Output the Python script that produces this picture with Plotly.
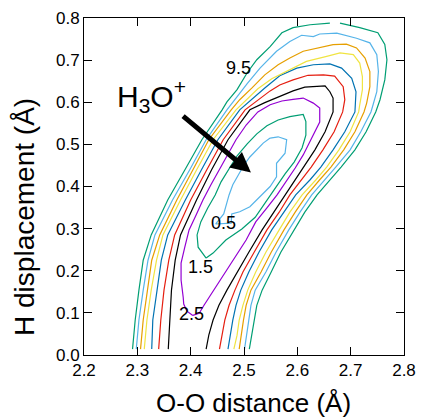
import plotly.graph_objects as go

# ---- contour lines (x: O-O distance, y: H displacement) ----
c95_x = [2.291, 2.296, 2.303, 2.311, 2.326, 2.357, 2.389, 2.421, 2.459, 2.468, 2.487, 2.506, 2.524, 2.549, 2.571, 2.592, 2.624, 2.661, None, 2.680, 2.717, 2.751, 2.764, 2.768, 2.764, 2.755, 2.747, 2.729, 2.708, 2.682, 2.661, 2.637, 2.614, 2.594, 2.569, 2.551, 2.534, 2.524, 2.519, 2.514, 2.510]
c95_y = [0.014, 0.083, 0.154, 0.225, 0.285, 0.368, 0.439, 0.511, 0.582, 0.601, 0.630, 0.670, 0.701, 0.732, 0.765, 0.777, 0.784, 0.788, None, 0.788, 0.777, 0.765, 0.737, 0.701, 0.653, 0.606, 0.577, 0.530, 0.487, 0.446, 0.416, 0.380, 0.339, 0.297, 0.244, 0.197, 0.154, 0.118, 0.083, 0.047, 0.014]

c85_x = [2.298, 2.303, 2.311, 2.320, 2.333, 2.366, 2.398, 2.429, 2.468, 2.485, 2.506, 2.530, 2.561, 2.586, 2.608, 2.630, 2.642, 2.674, 2.711, 2.736, 2.749, 2.752, 2.749, 2.742, 2.738, 2.719, 2.699, 2.672, 2.652, 2.627, 2.605, 2.584, 2.560, 2.541, 2.521, 2.513, 2.509, 2.505, 2.501]
c85_y = [0.014, 0.083, 0.154, 0.225, 0.285, 0.368, 0.439, 0.511, 0.582, 0.611, 0.644, 0.681, 0.721, 0.744, 0.759, 0.756, 0.762, 0.764, 0.752, 0.741, 0.713, 0.673, 0.625, 0.594, 0.577, 0.530, 0.487, 0.446, 0.416, 0.380, 0.339, 0.297, 0.244, 0.197, 0.154, 0.118, 0.083, 0.047, 0.014]

c75_x = [2.306, 2.311, 2.319, 2.327, 2.342, 2.374, 2.404, 2.434, 2.476, 2.492, 2.515, 2.539, 2.564, 2.586, 2.611, 2.642, 2.667, 2.692, 2.711, 2.727, 2.736, 2.736, 2.730, 2.725, 2.708, 2.687, 2.663, 2.642, 2.618, 2.596, 2.575, 2.551, 2.532, 2.513, 2.504, 2.499, 2.495, 2.491]
c75_y = [0.014, 0.083, 0.154, 0.225, 0.285, 0.368, 0.439, 0.511, 0.582, 0.606, 0.634, 0.665, 0.689, 0.705, 0.721, 0.729, 0.737, 0.738, 0.729, 0.705, 0.673, 0.637, 0.598, 0.577, 0.530, 0.487, 0.446, 0.416, 0.380, 0.339, 0.297, 0.244, 0.197, 0.154, 0.118, 0.083, 0.047, 0.014]

c65_x = [2.313, 2.318, 2.326, 2.336, 2.348, 2.381, 2.411, 2.442, 2.485, 2.504, 2.526, 2.552, 2.586, 2.617, 2.655, 2.680, 2.705, 2.717, 2.722, 2.722, 2.717, 2.715, 2.699, 2.678, 2.655, 2.635, 2.609, 2.586, 2.566, 2.541, 2.522, 2.507, 2.498, 2.491, 2.487, 2.481]
c65_y = [0.014, 0.083, 0.154, 0.225, 0.285, 0.368, 0.439, 0.511, 0.582, 0.606, 0.632, 0.656, 0.677, 0.697, 0.709, 0.717, 0.713, 0.693, 0.661, 0.630, 0.594, 0.577, 0.530, 0.487, 0.446, 0.416, 0.380, 0.339, 0.297, 0.244, 0.197, 0.154, 0.118, 0.083, 0.047, 0.014]

c55_x = [2.327, 2.329, 2.337, 2.345, 2.357, 2.390, 2.420, 2.451, 2.492, 2.515, 2.539, 2.567, 2.599, 2.630, 2.661, 2.683, 2.702, 2.710, 2.708, 2.689, 2.667, 2.644, 2.624, 2.597, 2.575, 2.552, 2.528, 2.509, 2.494, 2.485, 2.479, 2.475, 2.470]
c55_y = [0.014, 0.083, 0.154, 0.225, 0.285, 0.368, 0.439, 0.511, 0.582, 0.608, 0.634, 0.663, 0.681, 0.689, 0.691, 0.681, 0.657, 0.625, 0.577, 0.530, 0.487, 0.446, 0.416, 0.380, 0.339, 0.297, 0.244, 0.197, 0.154, 0.118, 0.083, 0.047, 0.014]

c45_x = [2.340, 2.344, 2.350, 2.359, 2.370, 2.400, 2.430, 2.461, 2.502, 2.526, 2.549, 2.567, 2.592, 2.620, 2.649, 2.670, 2.686, 2.689, 2.685, 2.669, 2.648, 2.626, 2.607, 2.586, 2.566, 2.543, 2.519, 2.498, 2.483, 2.472, 2.464, 2.459, 2.454]
c45_y = [0.014, 0.083, 0.154, 0.225, 0.285, 0.368, 0.439, 0.511, 0.582, 0.606, 0.627, 0.641, 0.653, 0.664, 0.665, 0.662, 0.637, 0.606, 0.577, 0.530, 0.487, 0.446, 0.416, 0.380, 0.339, 0.297, 0.244, 0.197, 0.154, 0.118, 0.083, 0.047, 0.014]

c35_x = [2.358, 2.361, 2.364, 2.371, 2.381, 2.411, 2.439, 2.470, 2.511, 2.539, 2.567, 2.592, 2.614, 2.652, 2.661, 2.667, 2.667, 2.652, 2.633, 2.612, 2.596, 2.577, 2.556, 2.534, 2.509, 2.487, 2.468, 2.453, 2.442, 2.434, 2.429]
c35_y = [0.014, 0.083, 0.154, 0.225, 0.285, 0.368, 0.439, 0.511, 0.582, 0.599, 0.613, 0.627, 0.636, 0.639, 0.625, 0.610, 0.577, 0.530, 0.487, 0.446, 0.416, 0.380, 0.339, 0.297, 0.244, 0.197, 0.154, 0.118, 0.083, 0.047, 0.014]

c25_x = [2.404, 2.393, 2.387, 2.386, 2.382, 2.382, 2.389, 2.397, 2.410, 2.423, 2.438, 2.453, 2.468, 2.485, 2.504, 2.526, 2.549, 2.571, 2.592, 2.611, 2.630, 2.642, 2.642, 2.627, 2.611, 2.596, 2.579, 2.562, 2.543, 2.522, 2.504, 2.483, 2.464, 2.442, 2.425, 2.416, 2.404]
c25_y = [0.094, 0.104, 0.121, 0.137, 0.178, 0.218, 0.256, 0.297, 0.332, 0.368, 0.404, 0.439, 0.475, 0.511, 0.546, 0.577, 0.594, 0.603, 0.607, 0.610, 0.598, 0.586, 0.553, 0.515, 0.475, 0.444, 0.411, 0.380, 0.349, 0.316, 0.273, 0.232, 0.197, 0.154, 0.118, 0.099, 0.094]

c15_x = [2.429, 2.414, 2.412, 2.419, 2.432, 2.446, 2.457, 2.470, 2.487, 2.506, 2.524, 2.543, 2.564, 2.586, 2.611, 2.616, 2.616, 2.609, 2.594, 2.577, 2.558, 2.539, 2.521, 2.496, 2.466, 2.442, 2.429]
c15_y = [0.230, 0.256, 0.285, 0.316, 0.349, 0.380, 0.411, 0.439, 0.473, 0.501, 0.525, 0.544, 0.558, 0.566, 0.571, 0.554, 0.522, 0.492, 0.458, 0.430, 0.396, 0.361, 0.327, 0.299, 0.273, 0.242, 0.230]

c05_x = [2.549, 2.564, 2.580, 2.577, 2.561, 2.561, 2.549, 2.530, 2.511, 2.492, 2.477, 2.476, 2.447, 2.462, 2.466, 2.472, 2.479, 2.489, 2.500, 2.511, 2.524, 2.536, 2.549]
c05_y = [0.515, 0.518, 0.511, 0.479, 0.455, 0.423, 0.400, 0.376, 0.352, 0.340, 0.335, 0.313, 0.311, 0.335, 0.356, 0.380, 0.404, 0.427, 0.451, 0.470, 0.487, 0.503, 0.515]

# contour level labels
label_text = ["9.5", "0.5", "1.5", "2.5"]
label_x = [2.489, 2.462, 2.419, 2.402]
label_y = [0.681, 0.3125, 0.209, 0.098]

x_ticks = [2.2, 2.3, 2.4, 2.5, 2.6, 2.7, 2.8]
y_ticks = [0.0, 0.1, 0.2, 0.3, 0.4, 0.5, 0.6, 0.7, 0.8]

contours = [
    (c05_x, c05_y, "#56b4e9"),
    (c15_x, c15_y, "#009e73"),
    (c25_x, c25_y, "#9400d3"),
    (c35_x, c35_y, "#000000"),
    (c45_x, c45_y, "#e51e10"),
    (c55_x, c55_y, "#0072b2"),
    (c65_x, c65_y, "#f0e442"),
    (c75_x, c75_y, "#e69f00"),
    (c85_x, c85_y, "#56b4e9"),
    (c95_x, c95_y, "#009e73"),
]

FONT = "Liberation Sans"
fig = go.Figure()
for xs, ys, col in contours:
    fig.add_trace(go.Scatter(x=xs, y=ys, mode="lines", line=dict(color=col, width=1.2),
                             hoverinfo="skip", showlegend=False, connectgaps=False))

for t, lx, ly in zip(label_text, label_x, label_y):
    fig.add_annotation(x=lx, y=ly, text=t, showarrow=False, xref="x", yref="y",
                       xanchor="center", yanchor="middle",
                       font=dict(family=FONT, size=18, color="black"))

# H3O+ label and arrow
fig.add_annotation(x=2.258, y=0.615, text="H<sub>3</sub>O<sup>+</sup>", showarrow=False,
                   xref="x", yref="y", xanchor="left", yanchor="middle",
                   font=dict(family=FONT, size=30, color="black"))
fig.add_annotation(x=2.513, y=0.433, ax=2.383, ay=0.570, axref="x", ayref="y", xref="x", yref="y",
                   text="", showarrow=True, arrowhead=2, arrowwidth=5, arrowsize=0.8,
                   arrowcolor="black")

# axis titles
fig.add_annotation(x=0.53, y=-0.142, xref="paper", yref="paper", text="O-O distance (Å)",
                   xanchor="center", yanchor="middle",
                   showarrow=False, font=dict(family=FONT, size=26, color="black"))
fig.add_annotation(x=-0.184, y=0.41, xref="paper", yref="paper", text="H displacement (Å)",
                   xanchor="center", yanchor="middle",
                   textangle=-90, showarrow=False, font=dict(family=FONT, size=28, color="black"))

axis_common = dict(ticks="inside", ticklen=8, tickwidth=1, tickcolor="black", showline=True,
                   linecolor="black", linewidth=1, mirror="ticks", showgrid=False, zeroline=False,
                   automargin=False, tickfont=dict(family=FONT, size=17, color="black"))
fig.update_xaxes(range=[2.2, 2.8], tickvals=x_ticks, ticktext=[f"{v:.1f}" for v in x_ticks], **axis_common)
fig.update_yaxes(range=[0, 0.8], tickvals=y_ticks, ticktext=[f"{v:.1f}" for v in y_ticks], **axis_common)

fig.update_layout(width=421, height=419,
                  margin=dict(l=84, r=17, t=18, b=64, autoexpand=False),
                  paper_bgcolor="white", plot_bgcolor="white", font=dict(family=FONT))
fig.write_html("out.html", config={"displayModeBar": False},
               post_script="document.body.style.margin='0';document.body.style.overflow='hidden';")
